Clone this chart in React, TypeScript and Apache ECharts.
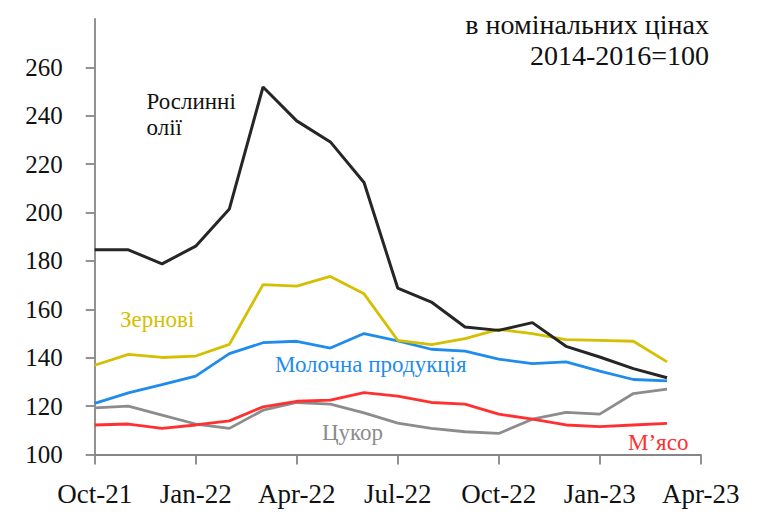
import React, { useEffect, useRef } from "react";
import * as echarts from "echarts";

const months = [
  "Oct-21", "Nov-21", "Dec-21", "Jan-22", "Feb-22", "Mar-22", "Apr-22",
  "May-22", "Jun-22", "Jul-22", "Aug-22", "Sep-22", "Oct-22", "Nov-22",
  "Dec-22", "Jan-23", "Feb-23", "Mar-23", "Apr-23",
];

const oils = [184.6, 184.6, 178.8, 186.1, 201.5, 251.9, 237.9, 229.2, 212.4, 168.8, 163.0, 152.7, 151.3, 154.5, 144.7, 140.3, 135.5, 131.7];
const cereals = [136.9, 141.4, 140.1, 140.7, 145.5, 170.2, 169.6, 173.6, 166.4, 147.2, 145.4, 147.9, 151.7, 150.0, 147.5, 147.2, 146.8, 138.3];
const dairy = [121.1, 125.5, 128.9, 132.4, 141.7, 146.2, 146.8, 144.0, 150.0, 147.0, 143.5, 142.7, 139.4, 137.6, 138.3, 134.5, 131.0, 130.4];
const meat = [112.2, 112.6, 110.8, 112.2, 113.9, 119.7, 122.0, 122.5, 125.6, 124.1, 121.5, 120.8, 116.7, 114.6, 112.2, 111.5, 112.2, 112.9];
const sugar = [119.3, 120.0, 116.3, 112.6, 110.8, 118.3, 121.5, 120.8, 117.2, 113.0, 110.8, 109.4, 108.7, 114.6, 117.4, 116.7, 125.2, 127.0];

const yMin = 100;
const yMax = 280;
const yStep = 20;

const titleLines = ["в номінальних цінах", "2014-2016=100"];
const labelOils = ["Рослинні", "олії"];
const labelCereals = "Зернові";
const labelDairy = "Молочна продукція";
const labelSugar = "Цукор";
const labelMeat = "М’ясо";

const FONT = "Liberation Serif";
const C_OILS = "#262626";
const C_CEREALS = "#d4bf00";
const C_DAIRY = "#1f8ceb";
const C_MEAT = "#ff3030";
const C_SUGAR = "#8c8c8c";
const AXIS = "#868686";

export default function App() {
  const ref = useRef<HTMLDivElement>(null);
  useEffect(() => {
    document.body.style.margin = "0";
    if (!ref.current) return;
    const chart = echarts.init(ref.current, undefined, { renderer: "svg" });
    const line = (name: string, data: number[], color: string, width: number) => ({
      name,
      type: "line",
      data,
      symbol: "none",
      lineStyle: { color, width },
      itemStyle: { color },
      z: 3,
    });
    const txt = (text: string, x: number, y: number, color: string, size: number, align: string) => ({
      type: "text",
      x,
      y,
      style: {
        text,
        fill: color,
        fontSize: size,
        fontFamily: FONT,
        align,
        verticalAlign: "middle",
      },
    });
    chart.setOption({
      animation: false,
      textStyle: { fontFamily: FONT },
      grid: {
        left: 94.7,
        right: 63.3,
        top: 19,
        bottom: 67.5,
        outerBoundsMode: "none",
      },
      xAxis: {
        type: "category",
        data: months,
        boundaryGap: false,
        axisLine: { lineStyle: { color: AXIS, width: 1.8 } },
        axisTick: { interval: 2, length: 10, lineStyle: { color: AXIS, width: 1.8 } },
        axisLabel: {
          interval: 2,
          fontSize: 27,
          fontFamily: FONT,
          color: "#111",
          margin: 26,
        },
        splitLine: { show: false },
      },
      yAxis: {
        type: "value",
        min: yMin,
        max: yMax,
        interval: yStep,
        axisLine: { show: true, lineStyle: { color: AXIS, width: 1.8 } },
        axisTick: { show: true, length: 9, lineStyle: { color: AXIS, width: 1.8 } },
        axisLabel: {
          showMaxLabel: false,
          fontSize: 25,
          fontFamily: FONT,
          color: "#111",
          margin: 32,
          padding: [7, 0, 0, 0],
        },
        splitLine: { show: false },
      },
      series: [
        line("Цукор", sugar, C_SUGAR, 2.8),
        line("М’ясо", meat, C_MEAT, 2.8),
        line("Молочна продукція", dairy, C_DAIRY, 2.8),
        line("Зернові", cereals, C_CEREALS, 2.8),
        line("Рослинні олії", oils, C_OILS, 3),
      ],
      graphic: [
        txt(titleLines[0], 709, 24.8, "#111", 28, "right"),
        txt(titleLines[1], 709, 55.5, "#111", 28, "right"),
        txt(labelOils[0], 146.5, 101.5, "#111", 23, "left"),
        txt(labelOils[1], 146.5, 127.2, "#111", 23, "left"),
        txt(labelCereals, 120, 319.5, C_CEREALS, 23, "left"),
        txt(labelDairy, 275, 364, C_DAIRY, 23, "left"),
        txt(labelSugar, 322, 432.2, C_SUGAR, 23, "left"),
        txt(labelMeat, 628, 442.2, C_MEAT, 23, "left"),
      ],
    });
    return () => chart.dispose();
  }, []);
  return <div ref={ref} style={{ width: 764, height: 522 }} />;
}
